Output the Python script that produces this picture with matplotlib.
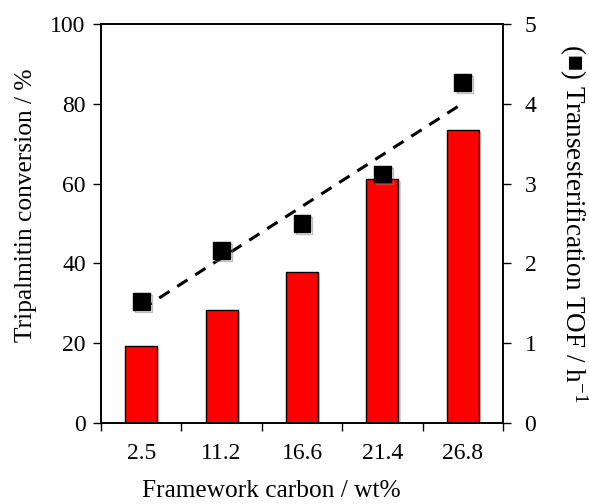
import numpy as np
import matplotlib
matplotlib.use("Agg")
import matplotlib.pyplot as plt
import matplotlib.patheffects as pe

plt.rcParams['font.family'] = ['Liberation Serif', 'DejaVu Serif', 'DejaVu Sans']
plt.rcParams['mathtext.fontset'] = 'stix'

categories = ["2.5", "11.2", "16.6", "21.4", "26.8"]
conversion = [19.3, 28.3, 37.9, 61.2, 73.4]
tof = [1.52, 2.16, 2.50, 3.12, 4.27]

W, H = 589, 504
fig = plt.figure(figsize=(W / 100, H / 100), dpi=100)
L, R, T, B = 101, 503, 24, 423
ax = fig.add_axes([L / W, 1 - B / H, (R - L) / W, (B - T) / H])
x = np.arange(len(categories))

shadow = [pe.SimplePatchShadow(offset=(1.5, -1.5), shadow_rgbFace='gray', alpha=0.35), pe.Normal()]
bars = ax.bar(x, conversion, width=0.4, color='#ff0000', edgecolor='black', linewidth=1.0, zorder=2)
for b in bars:
    b.set_path_effects(shadow)

ax.set_xlim(-0.5, len(categories) - 0.5)
ax.set_ylim(0, 100)
ax.set_yticks([0, 20, 40, 60, 80, 100])
ax.set_xticks(np.arange(-0.5, len(categories), 1.0))
ax.set_xticklabels([])
ax.set_xticks(x, minor=True)
ax.set_xticklabels(categories, minor=True)
ax.tick_params(axis='x', which='major', direction='out', length=6, width=1)
ax.tick_params(axis='x', which='minor', length=0, pad=14.5, labelsize=17)
ax.tick_params(axis='y', direction='out', length=6, width=1, labelsize=17, pad=5)

ax.set_ylabel("Tripalmitin conversion / %", fontsize=18.3)
ax.yaxis.set_label_coords((26 - L) / (R - L), (B - 205.5) / (B - T))
ax.yaxis.label.set_va('center')
ax.yaxis.label.set_ha('center')

ax.set_xlabel("Framework carbon / wt%", fontsize=18.3)
ax.xaxis.set_label_coords((271.5 - L) / (R - L), (B - 497) / (B - T))
ax.xaxis.label.set_va('baseline')
ax.xaxis.label.set_ha('center')
for s in ax.spines.values():
    s.set_linewidth(1.2)

ax2 = ax.twinx()
ax2.set_ylim(0, 5)
ax2.set_yticks([0, 1, 2, 3, 4, 5])
ax2.tick_params(axis='y', direction='out', length=6, width=1, labelsize=17, pad=9.5)
coef = np.polyfit(x, tof, 1)
ax2.plot(x, np.polyval(coef, x), linestyle=(0, (4, 3)), color='black', linewidth=2.2, zorder=3)
mshadow = [pe.SimpleLineShadow(offset=(1.5, -1.5), shadow_color='gray', alpha=0.5), pe.Normal()]
ax2.plot(x, tof, linestyle='none', marker='s', markersize=12, color='black', zorder=4,
         path_effects=mshadow)
ax2.set_ylabel("(\u25A0) Transesterification TOF / h$^{\\mathregular{-1}}$", fontsize=19.5,
               rotation=270, family=['Liberation Serif', 'DejaVu Sans'])
ax2.yaxis.set_label_coords((573 - L) / (R - L), 0.5)
ax2.yaxis.label.set_va('center')
ax2.yaxis.label.set_ha('center')
for s in ax2.spines.values():
    s.set_linewidth(1.2)

fig.savefig("out.png", dpi=100)
